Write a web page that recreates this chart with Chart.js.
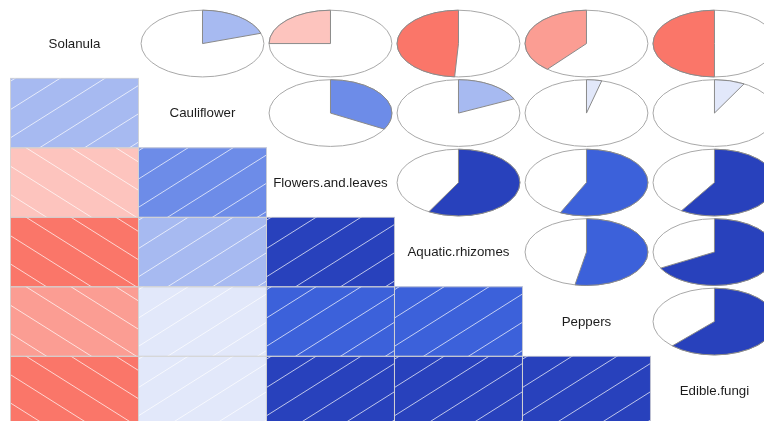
<!DOCTYPE html>
<html>
<head>
<meta charset="utf-8">
<title>Vegetable correlogram</title>
<script src="https://cdn.jsdelivr.net/npm/chart.js@4/dist/chart.umd.min.js"></script>
<style>
  html, body { margin: 0; padding: 0; background: #ffffff; overflow: hidden; }
  #wrap { width: 764px; height: 421px; }
</style>
</head>
<body>
<div id="wrap"><canvas id="corrgram" width="764" height="421"></canvas></div>
<script>
// Variables on the diagonal, in matrix order
const variables = ['Solanula', 'Cauliflower', 'Flowers.and.leaves', 'Aquatic.rhizomes', 'Peppers', 'Edible.fungi'];

// Pairwise correlations, one row of the upper triangle per variable
const corrSolanula    = [0.20, -0.25, -0.49, -0.39, -0.50]; // vs Cauliflower .. Edible.fungi
const corrCauliflower = [0.33, 0.18, 0.04, 0.08];           // vs Flowers.and.leaves .. Edible.fungi
const corrFlowers     = [0.58, 0.57, 0.59];                 // vs Aquatic.rhizomes .. Edible.fungi
const corrAquatic     = [0.53, 0.67];                       // vs Peppers, Edible.fungi
const corrPeppers     = [0.62];                             // vs Edible.fungi

// 14-step red - salmon - white - royalblue - navy ramp
const shadePalette = ['#FF0000', '#FD2723', '#FC4F46', '#FA7669', '#FB9D93', '#FDC4BE', '#FEEBE9',
                      '#E2E8FA', '#A7BAF1', '#6D8CE8', '#3C61DA', '#2841BC', '#14209E', '#000080'];

const upperRows = [corrSolanula, corrCauliflower, corrFlowers, corrAquatic, corrPeppers];
const n = variables.length;

// Full symmetric matrix built from the rows above
const corr = variables.map(() => new Array(n).fill(1));
upperRows.forEach((row, i) => row.forEach((v, k) => {
  const j = i + 1 + k;
  corr[i][j] = v;
  corr[j][i] = v;
}));

function shadeColor(r) {
  const bins = shadePalette.length;
  let idx = Math.ceil((r + 1) / (2 / bins)) - 1;
  idx = Math.max(0, Math.min(bins - 1, idx));
  return shadePalette[idx];
}

// Lower triangle: one floating bar per cell (column = x variable, spans its row)
const lowerCells = [];
for (let r = 1; r < n; r++) {
  for (let c = 0; c < r; c++) {
    lowerCells.push({ x: c + 0.5, y: [r, r + 1], value: corr[r][c] });
  }
}

// Hatching, pies and diagonal labels
const panelPlugin = {
  id: 'corrgramPanels',
  afterDatasetsDraw(chart) {
    const ctx = chart.ctx;
    const xs = chart.scales.x, ys = chart.scales.y;
    const cellW = Math.abs(xs.getPixelForValue(1) - xs.getPixelForValue(0));
    const cellH = Math.abs(ys.getPixelForValue(1) - ys.getPixelForValue(0));

    // shading lines over each lower cell
    const meta = chart.getDatasetMeta(0);
    const slope = 1.16 * cellH / cellW;
    const gap = 0.407 * cellH;
    meta.data.forEach((bar, i) => {
      const p = bar.getProps(['x', 'y', 'base', 'width'], true);
      const left = p.x - p.width / 2, right = p.x + p.width / 2;
      const top = Math.min(p.y, p.base), bottom = Math.max(p.y, p.base);
      const v = lowerCells[i].value;
      const w = right - left, h = bottom - top;
      ctx.save();
      ctx.beginPath();
      ctx.rect(left, top, w, h);
      ctx.clip();
      ctx.strokeStyle = 'rgba(255,255,255,0.78)';
      ctx.lineWidth = 0.9;
      ctx.beginPath();
      if (v >= 0) {
        const phase = 0.144 * cellH;
        for (let off = phase - 6 * gap; off < h + w * slope + gap; off += gap) {
          ctx.moveTo(left, bottom - off);
          ctx.lineTo(right, bottom - off - w * slope);
        }
      } else {
        const phase = 0.265 * cellH;
        for (let off = phase - 6 * gap; off < h + w * slope + gap; off += gap) {
          ctx.moveTo(left, top + off);
          ctx.lineTo(right, top + off + w * slope);
        }
      }
      ctx.stroke();
      ctx.restore();
      ctx.save();
      ctx.strokeStyle = 'rgba(211,211,211,0.85)';
      ctx.lineWidth = 1;
      ctx.strokeRect(left, top, w, h);
      ctx.restore();
    });

    // pies in the upper triangle
    const rx = 0.48 * cellW, ry = 0.48 * cellH;
    for (let i = 0; i < n; i++) {
      for (let j = i + 1; j < n; j++) {
        const r = corr[i][j];
        const cx = xs.getPixelForValue(j + 0.5);
        const cy = ys.getPixelForValue(i + 0.5);
        ctx.save();
        ctx.beginPath();
        ctx.ellipse(cx, cy, rx, ry, 0, 0, 2 * Math.PI);
        ctx.fillStyle = '#ffffff';
        ctx.fill();
        ctx.strokeStyle = '#a8a8a8';
        ctx.lineWidth = 1;
        ctx.stroke();
        const start = -Math.PI / 2;
        const end = start + 2 * Math.PI * r;
        ctx.beginPath();
        ctx.moveTo(cx, cy);
        ctx.ellipse(cx, cy, rx, ry, 0, start, end, r < 0);
        ctx.closePath();
        ctx.fillStyle = shadeColor(r);
        ctx.fill();
        ctx.strokeStyle = '#8a8a8a';
        ctx.stroke();
        ctx.restore();
      }
    }

    // variable names on the diagonal
    ctx.save();
    ctx.fillStyle = '#1c1c1c';
    ctx.font = '13.3px "Liberation Sans", Arial, sans-serif';
    ctx.textAlign = 'center';
    ctx.textBaseline = 'middle';
    variables.forEach((name, k) => {
      ctx.fillText(name, xs.getPixelForValue(k + 0.5), ys.getPixelForValue(k + 0.5) + 0.5);
    });
    ctx.restore();
  }
};

new Chart(document.getElementById('corrgram'), {
  type: 'bar',
  data: {
    datasets: [{
      data: lowerCells,
      backgroundColor: lowerCells.map(c => shadeColor(c.value)),
      borderWidth: 0,
      barPercentage: 1,
      categoryPercentage: 1
    }]
  },
  options: {
    responsive: false,
    maintainAspectRatio: false,
    animation: false,
    layout: { padding: 0 },
    plugins: { legend: { display: false }, tooltip: { enabled: false } },
    scales: {
      x: {
        type: 'linear',
        display: false,
        offset: false,
        min: -0.082,
        max: 5.887,
        ticks: { stepSize: 1, includeBounds: false }
      },
      y: {
        type: 'linear',
        display: false,
        reverse: true,
        min: -0.127,
        max: 5.931,
        ticks: { stepSize: 1, includeBounds: false }
      }
    }
  },
  plugins: [panelPlugin]
});
</script>
</body>
</html>
